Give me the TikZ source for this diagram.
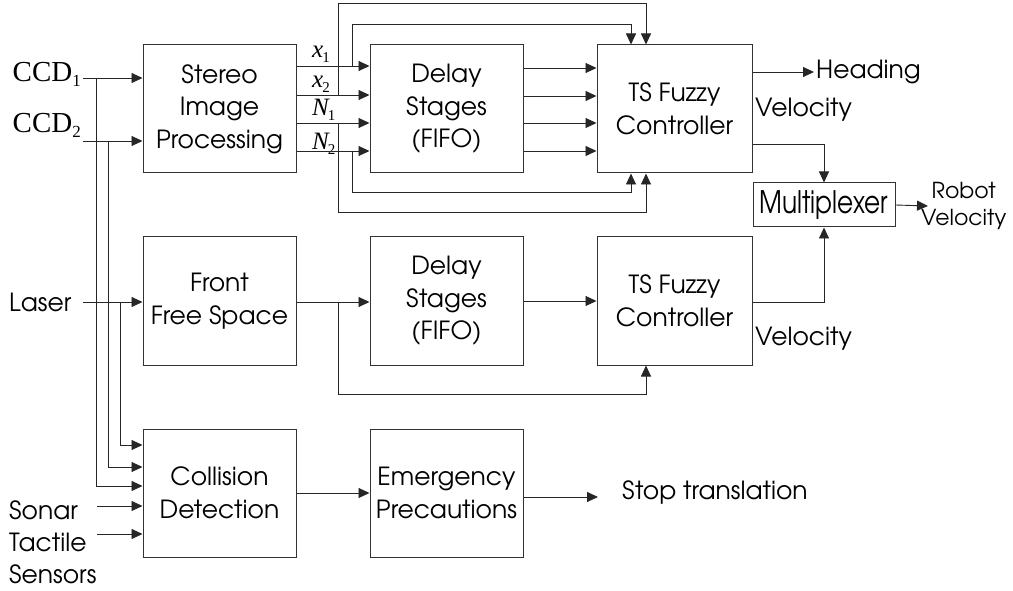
\documentclass[tikz,border=0pt]{standalone}
\usepackage{fontspec}
\setmainfont{texgyreadventor-regular.otf}
\newfontfamily\tnr{Liberation Serif}
\usetikzlibrary{arrows.meta}
\newcommand\symlab[2]{{\tnr\itshape\fontsize{25}{25}\selectfont #1}\kern-1pt\raisebox{-5pt}{\tnr\fontsize{15}{15}\selectfont #2}}
\newcommand\ccdlab[1]{{\tnr\fontsize{29}{29}\selectfont CCD}\raisebox{-5pt}{\tnr\fontsize{17}{17}\selectfont #1}}
\begin{document}
\begin{tikzpicture}[x=1pt,y=-1pt,
  box/.style={draw=black!80, line width=1pt, minimum width=153pt, minimum height=128pt,
    align=center, font=\fontsize{25}{32.5}\selectfont, inner sep=0pt},
  wire/.style={line width=0.9pt, draw=black!85},
  arr/.style={wire, -{Triangle[length=11pt,width=10pt]}},
  lbl/.style={font=\fontsize{25}{29}\selectfont, inner sep=0pt},
  sym/.style={inner sep=0pt}]
\useasboundingbox (0,0) rectangle (1013,591);

% boxes
\node[box] (sip) at (219.5,109) {Stereo\\Image\\Processing};
\node[box] (d1) at (446.5,109) {Delay\\Stages\\(FIFO)};
\node[box, minimum width=155pt] (ts1) at (674.5,109) {TS Fuzzy\\Controller};
\node[box] (ffs) at (219.5,301) {Front\\Free Space};
\node[box] (d2) at (446.5,301) {Delay\\Stages\\(FIFO)};
\node[box, minimum width=155pt] (ts2) at (674.5,301) {TS Fuzzy\\Controller};
\node[box] (cd) at (219.5,493) {Collision\\Detection};
\node[box] (ep) at (446.5,493) {Emergency\\Precautions};
\node[box, minimum width=142pt, minimum height=44pt] (mux) at (824,205)
  {\fontsize{31}{31}\selectfont\scalebox{0.8}[1]{Multiplexer}};

% labels
\node[anchor=base east, inner sep=0pt] (ccd1) at (81,82) {\ccdlab{1}};
\node[anchor=base east, inner sep=0pt] (ccd2) at (81,133) {\ccdlab{2}};
\node[lbl, anchor=west] (laser) at (9,302) {Laser};
\node[lbl, anchor=west] (sonar) at (9,510) {Sonar};
\node[lbl, anchor=west] (tactile) at (9,542) {Tactile};
\node[lbl, anchor=west] (sensors) at (9,574) {Sensors};
\node[sym, anchor=west] (lx1) at (312,54) {\symlab{x}{1}};
\node[sym, anchor=west] (lx2) at (312,84) {\symlab{x}{2}};
\node[sym, anchor=west] (ln1) at (312,110) {\symlab{N}{1}};
\node[sym, anchor=west] (ln2) at (312,144) {\symlab{N}{2}};
\node[lbl, anchor=west] (heading) at (816,72) {Heading};
\node[lbl, anchor=west] (vel1) at (755,110) {Velocity};
\node[lbl, anchor=west] (vel2) at (755,339) {Velocity};
\node[lbl, anchor=west, align=center, font=\fontsize{22}{27}\selectfont] (robot) at (921,206) {Robot\\Velocity};
\node[lbl, anchor=west] (stop) at (622,492) {Stop translation};

% free-end coordinates
\coordinate (c1) at (83,78);
\coordinate (c2) at (83,141);
\coordinate (cl) at (83,302);
\coordinate (cs) at (97,506);
\coordinate (ct) at (97,534);
\coordinate (hd) at (814,72);
\coordinate (rv) at (928,206);
\coordinate (st) at (598,497);
\coordinate (xi) at (631,0);
\coordinate (xo) at (646,0);

% sensor inputs
\draw[arr] (c1) -- (sip.west |- c1);
\draw[arr] (c2) -- (sip.west |- c2);
\draw[arr] (cl) -- (ffs.west |- cl);
\draw[arr] (96,78) |- (cd.west |- 0,486);
\draw[arr] (108,141) |- (cd.west |- 0,467);
\draw[arr] (120,302) |- (cd.west |- 0,445);
\draw[arr] (cs) -- (cd.west |- cs);
\draw[arr] (ct) -- (cd.west |- ct);

% stereo -> delay -> ts
\foreach \y in {66,95,123,151}
  \draw[arr] (sip.east |- 0,\y) -- (d1.west |- 0,\y);
\foreach \y in {68,96,123,151}
  \draw[arr] (d1.east |- 0,\y) -- (ts1.west |- 0,\y);

% bypass loops
\draw[arr] (352,66) |- (631,24) -- (ts1.north -| xi);
\draw[arr] (352,151) |- (631,192) -- (ts1.south -| xi);
\draw[wire] (338,95) -- (338,3);
\draw[arr] (338,3) -- (646,3) -- (ts1.north -| xo);
\draw[wire] (338,123) -- (338,212);
\draw[arr] (338,212) -- (646,212) -- (ts1.south -| xo);

% ts1 outputs
\draw[arr] (ts1.east |- hd) -- (hd);
\draw[arr] (ts1.east |- 0,144) -| (mux.north);
\draw[arr] (mux.east) -- (rv);

% middle row
\draw[arr] (ffs.east |- 0,302) -- (d2.west |- 0,302);
\draw[arr] (d2.east |- 0,301) -- (ts2.west |- 0,301);
\draw[arr] (338,302) |- (646,394) -- (ts2.south -| xo);
\draw[arr] (ts2.east |- 0,302) -| (mux.south);

% bottom row
\draw[arr] (cd.east |- 0,493) -- (ep.west |- 0,493);
\draw[arr] (ep.east |- st) -- (st);
\end{tikzpicture}
\end{document}
